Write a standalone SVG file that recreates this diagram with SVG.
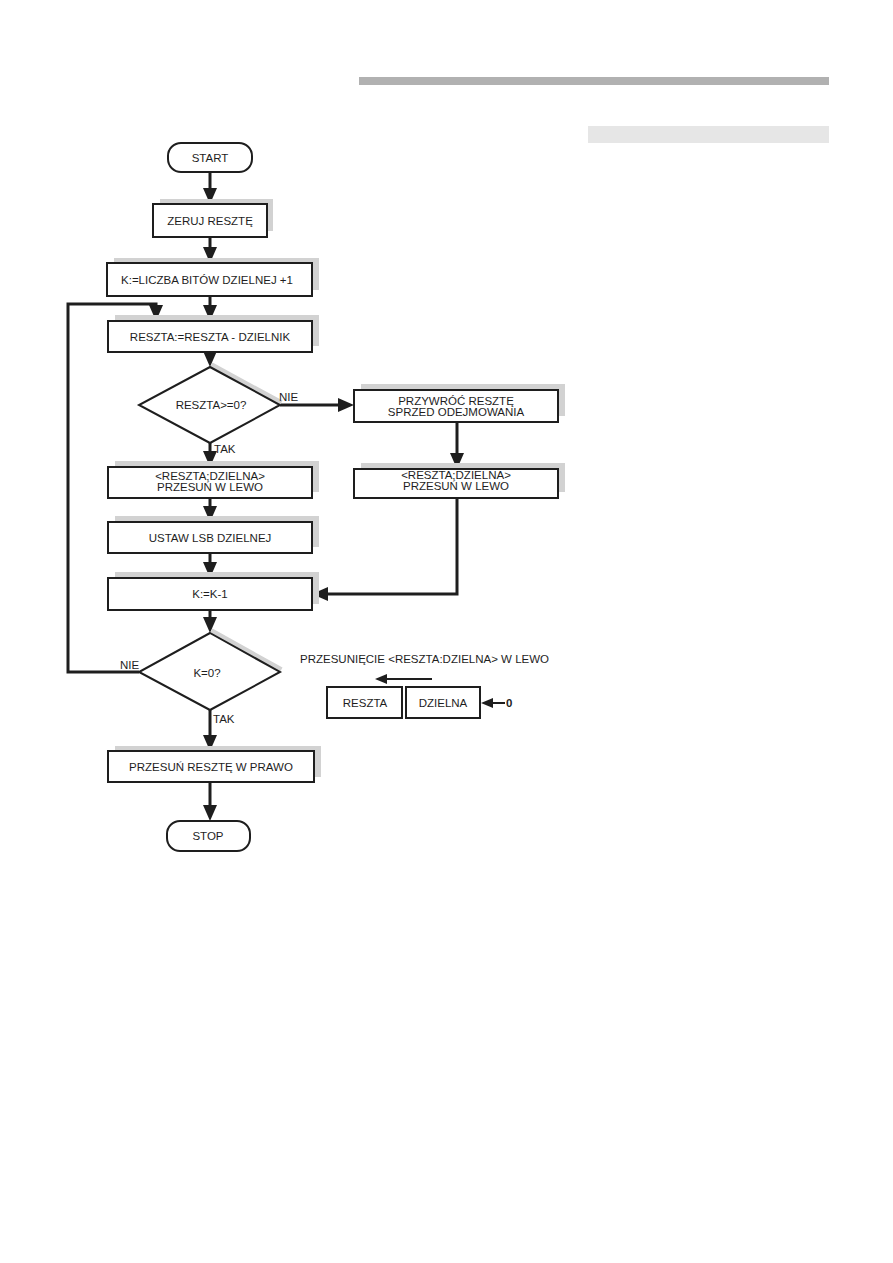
<svg xmlns="http://www.w3.org/2000/svg" width="893" height="1263" viewBox="0 0 893 1263">
<style>
.box{fill:#fff;stroke:#1e1e1e;stroke-width:2}
.sh{fill:#d2d2d2;stroke:none}
.t{font-family:"Liberation Sans",Arial,sans-serif;font-size:11.5px;fill:#1e1e1e;text-anchor:middle}
.l{font-family:"Liberation Sans",Arial,sans-serif;font-size:11.5px;fill:#1e1e1e}
.c{fill:none;stroke:#1e1e1e;stroke-width:3}
.cs{fill:none;stroke:#1e1e1e;stroke-width:2}
</style>
<defs>
<marker id="ah" viewBox="0 0 16 14" refX="8" refY="7" markerWidth="16" markerHeight="14" markerUnits="userSpaceOnUse" orient="auto">
<path d="M0,0 L16,7 L0,14 z" fill="#1e1e1e"/>
</marker>
<marker id="ahs" viewBox="0 0 12 10" refX="6" refY="5" markerWidth="12" markerHeight="10" markerUnits="userSpaceOnUse" orient="auto">
<path d="M0,0 L12,5 L0,10 z" fill="#1e1e1e"/>
</marker>
</defs>
<rect width="893" height="1263" fill="#fff"/>
<rect x="359" y="77" width="470" height="8" fill="#b1b1b1"/>
<rect x="588" y="126" width="241" height="17" fill="#e6e6e6"/>

<g id="connectors">
<line class="c" x1="210" y1="172" x2="210" y2="196" marker-end="url(#ah)"/>
<line class="c" x1="210" y1="237" x2="210" y2="255" marker-end="url(#ah)"/>
<line class="c" x1="210" y1="296" x2="210" y2="313" marker-end="url(#ah)"/>
<polyline class="c" points="139,672 68,672 68,304 156,304 156,313" marker-end="url(#ah)"/>
<line class="c" x1="210" y1="352" x2="210" y2="359" marker-end="url(#ah)"/>
<line class="c" x1="210" y1="443" x2="210" y2="459" marker-end="url(#ah)"/>
<line class="c" x1="280" y1="405" x2="346" y2="405" marker-end="url(#ah)"/>
<line class="c" x1="457" y1="422" x2="457" y2="461" marker-end="url(#ah)"/>
<polyline class="c" points="457,498 457,594 320,594" marker-end="url(#ah)"/>
<line class="c" x1="210" y1="498" x2="210" y2="514" marker-end="url(#ah)"/>
<line class="c" x1="210" y1="553" x2="210" y2="570" marker-end="url(#ah)"/>
<line class="c" x1="210" y1="610" x2="210" y2="625" marker-end="url(#ah)"/>
<line class="c" x1="210" y1="710" x2="210" y2="743" marker-end="url(#ah)"/>
<line class="c" x1="210" y1="782" x2="210" y2="813" marker-end="url(#ah)"/>
<line class="cs" x1="432" y1="679" x2="381" y2="679" marker-end="url(#ahs)"/>
<line class="cs" x1="505" y1="703" x2="487" y2="703" marker-end="url(#ahs)"/>
</g>

<g id="start">
<rect class="box" x="168" y="143" width="84" height="29" rx="13"/>
<text class="t" x="210" y="162">START</text>
</g>
<g id="zeruj">
<rect class="sh" x="160" y="199" width="113" height="32"/>
<rect class="box" x="153" y="204" width="114" height="33"/>
<text class="t" x="210" y="225">ZERUJ RESZTĘ</text>
</g>
<g id="k-init">
<rect class="sh" x="114" y="258" width="205" height="32"/>
<rect class="box" x="107" y="263" width="205" height="33"/>
<text class="t" x="207" y="284">K:=LICZBA BITÓW DZIELNEJ +1</text>
</g>
<g id="sub">
<rect class="sh" x="115" y="315" width="204" height="31"/>
<rect class="box" x="108" y="321" width="204" height="31"/>
<text class="t" x="210" y="341">RESZTA:=RESZTA - DZIELNIK</text>
</g>
<g id="cond1">
<polygon class="sh" points="210,367 280,405 282.6,400.6 212.6,362.6"/>
<polygon class="box" points="210,367 280,405 210,443 139,405"/>
<text class="t" x="211" y="409">RESZTA&gt;=0?</text>
<text class="l" x="279" y="401">NIE</text>
<text class="l" x="214" y="453">TAK</text>
</g>
<g id="restore">
<rect class="sh" x="361" y="384" width="204" height="32"/>
<rect class="box" x="354" y="390" width="204" height="32"/>
<text class="t" x="456" y="405">PRZYWRÓĆ RESZTĘ</text>
<text class="t" x="456" y="416">SPRZED ODEJMOWANIA</text>
</g>
<g id="shift-right-branch">
<rect class="sh" x="361" y="463" width="204" height="29"/>
<rect class="box" x="354" y="469" width="204" height="29"/>
<text class="t" x="456" y="479">&lt;RESZTA;DZIELNA&gt;</text>
<text class="t" x="456" y="490">PRZESUŃ W LEWO</text>
</g>
<g id="shift-left-branch">
<rect class="sh" x="115" y="461" width="204" height="31"/>
<rect class="box" x="108" y="467" width="204" height="31"/>
<text class="t" x="210" y="480">&lt;RESZTA;DZIELNA&gt;</text>
<text class="t" x="210" y="491">PRZESUŃ W LEWO</text>
</g>
<g id="lsb">
<rect class="sh" x="115" y="516" width="204" height="31"/>
<rect class="box" x="108" y="522" width="204" height="31"/>
<text class="t" x="210" y="542">USTAW LSB DZIELNEJ</text>
</g>
<g id="dec">
<rect class="sh" x="115" y="572" width="204" height="32"/>
<rect class="box" x="108" y="578" width="204" height="32"/>
<text class="t" x="210" y="598">K:=K-1</text>
</g>
<g id="cond2">
<polygon class="sh" points="210,633 280,672 282.5,667.6 212.5,628.6"/>
<polygon class="box" points="210,633 280,672 210,710 139,672"/>
<text class="t" x="207" y="677">K=0?</text>
<text class="l" x="120" y="669">NIE</text>
<text class="l" x="213" y="723">TAK</text>
</g>
<g id="shr">
<rect class="sh" x="115" y="746" width="206" height="31"/>
<rect class="box" x="108" y="751" width="206" height="31"/>
<text class="t" x="211" y="771">PRZESUŃ RESZTĘ W PRAWO</text>
</g>
<g id="stop">
<rect class="box" x="167" y="821" width="83" height="30" rx="13"/>
<text class="t" x="208" y="840">STOP</text>
</g>
<g id="legend">
<text class="l" x="300" y="663">PRZESUNIĘCIE &lt;RESZTA:DZIELNA&gt; W LEWO</text>
<rect class="box" x="327" y="687" width="75" height="31"/>
<text class="t" x="365" y="707">RESZTA</text>
<rect class="box" x="406" y="687" width="74" height="31"/>
<text class="t" x="443" y="707">DZIELNA</text>
<text class="l" x="506" y="707" font-weight="bold">0</text>
</g>
</svg>
